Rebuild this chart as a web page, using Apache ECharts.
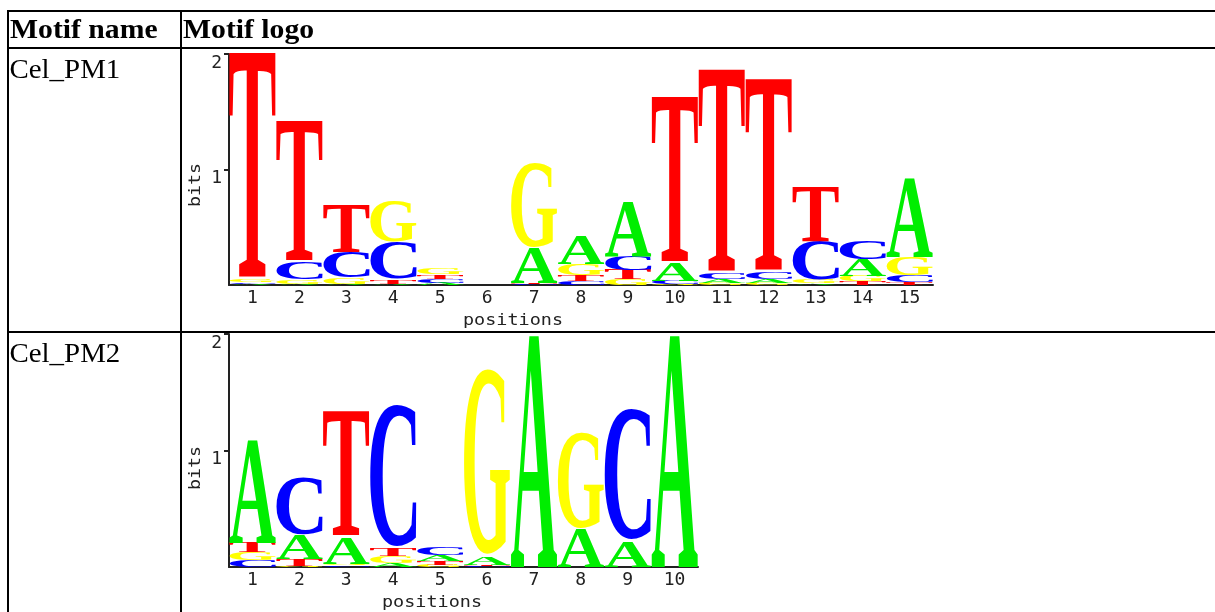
<!DOCTYPE html>
<html><head><meta charset="utf-8">
<script src="https://cdn.jsdelivr.net/npm/echarts@6/dist/echarts.min.js"></script>
<style>html,body{margin:0;padding:0;background:#fff}#c{width:1215px;height:612px}</style>
</head><body><div id="c"></div><script>
// ---- data ----
const headers = ['Motif name', 'Motif logo'];
const motifNames = ['Cel_PM1', 'Cel_PM2'];
const yTicks = [1, 2];

const positions1 = ['1','2','3','4','5','6','7','8','9','10','11','12','13','14','15'];
const A1 = [0.01, 0.01, 0.01, 0.01, 0.02, 0, 0.30, 0.24, 0.47, 0.15, 0.03, 0.03, 0.015, 0.14, 0.68];
const C1 = [0.015, 0.15, 0.22, 0.32, 0.03, 0, 0.01, 0.03, 0.12, 0.03, 0.05, 0.06, 0.33, 0.16, 0.06];
const G1 = [0.02, 0.04, 0.05, 0.36, 0.05, 0, 0.73, 0.10, 0.05, 0.005, 0.02, 0.02, 0.03, 0.05, 0.16];
const T1 = [1.95, 1.21, 0.41, 0.04, 0.04, 0, 0.01, 0.05, 0.08, 1.43, 1.75, 1.66, 0.47, 0.03, 0.025];

const positions2 = ['1','2','3','4','5','6','7','8','9','10'];
const A2 = [0.88, 0.20, 0.23, 0.03, 0.05, 0.07, 1.98, 0.32, 0.22, 1.98];
const C2 = [0.06, 0.50, 0.015, 1.23, 0.07, 0.01, 0, 0, 1.13, 0];
const G2 = [0.07, 0.01, 0.015, 0.06, 0.02, 1.60, 0, 0.83, 0, 0];
const T2 = [0.08, 0.06, 1.07, 0.07, 0.03, 0.01, 0, 0, 0, 0];

// ---- styling ----
const letterColors = { A: '#00ee00', C: '#0000ff', G: '#ffff00', T: '#ff0000' };
const letterFont = 'bold 100px "Liberation Serif"';
const monoFamily = 'DejaVu Sans Mono';
const axisColor = '#222';

const mctx = document.createElement('canvas').getContext('2d');
mctx.textAlign = 'left';
mctx.textBaseline = 'middle';
function measure(font, txt) {
  mctx.font = font;
  const m = mctx.measureText(txt);
  return { L: m.actualBoundingBoxLeft, R: m.actualBoundingBoxRight,
           A: m.actualBoundingBoxAscent, D: m.actualBoundingBoxDescent };
}
const glyph = {};
['A','C','G','T'].forEach(l => glyph[l] = measure(letterFont, l));

function rows(a, c, g, t) {
  return a.map((v, i) => [i, v, c[i], g[i], t[i]]);
}

function renderLogo(params, api) {
  const idx = api.value(0);
  const items = [
    { l: 'A', v: api.value(1) }, { l: 'C', v: api.value(2) },
    { l: 'G', v: api.value(3) }, { l: 'T', v: api.value(4) }
  ].sort((p, q) => p.v - q.v);
  const band = api.size([1, 0])[0];
  const cx = api.coord([idx, 0])[0];
  const x0 = cx - band / 2, x1 = cx + band / 2;
  let cum = 0;
  const children = [];
  items.forEach(it => {
    if (!(it.v > 0)) return;
    const yb = api.coord([idx, cum])[1];
    const yt = api.coord([idx, cum + it.v])[1];
    cum += it.v;
    if (yb - yt < 0.4) return;
    const g = glyph[it.l];
    const sx = (x1 - x0) / (g.L + g.R);
    const sy = (yb - yt) / (g.A + g.D);
    children.push({
      type: 'text', silent: true,
      x: x0 + g.L * sx, y: yt + g.A * sy, scaleX: sx, scaleY: sy,
      style: { text: it.l, font: letterFont, fill: letterColors[it.l], align: 'left', verticalAlign: 'middle' }
    });
  });
  return { type: 'group', children };
}

function textAtBaseline(txt, font, left, baseline, scaleX) {
  const d = measure(font, 'H').D;
  return { type: 'text', x: left, y: baseline - d, scaleX: scaleX, silent: true,
    style: { text: txt, font: font, fill: '#000', align: 'left', verticalAlign: 'middle' } };
}

const headFont = 'bold 27px "Liberation Serif"';
const nameFont = '27px "Liberation Serif"';

function xAxisCfg(gi, cats) {
  return { type: 'category', gridIndex: gi, data: cats, boundaryGap: true,
    axisLine: { show: true, lineStyle: { color: axisColor, width: 2 } },
    axisTick: { show: false },
    axisLabel: { color: axisColor, fontFamily: monoFamily, fontSize: 18, margin: 4, interval: 0 },
    splitLine: { show: false } };
}
function yAxisCfg(gi) {
  return { type: 'value', gridIndex: gi, min: 0, max: 2, interval: 1,
    axisLine: { show: true, lineStyle: { color: axisColor, width: 2 } },
    axisTick: { show: true, length: 5, customValues: yTicks, lineStyle: { color: axisColor, width: 2 } },
    axisLabel: { customValues: yTicks, color: axisColor, fontFamily: monoFamily, fontSize: 18,
      margin: 7, verticalAlign: 'top' },
    splitLine: { show: false } };
}

const chart = echarts.init(document.getElementById('c'), null, { renderer: 'canvas' });
chart.setOption({
  animation: false,
  backgroundColor: '#fff',
  grid: [
    { left: 229, top: 54, width: 704, height: 231, outerBoundsMode: 'none', containLabel: false },
    { left: 229, top: 334, width: 469, height: 233, outerBoundsMode: 'none', containLabel: false }
  ],
  xAxis: [xAxisCfg(0, positions1), xAxisCfg(1, positions2)],
  yAxis: [yAxisCfg(0), yAxisCfg(1)],
  series: [
    { type: 'custom', xAxisIndex: 0, yAxisIndex: 0, clip: false, silent: true,
      renderItem: renderLogo, data: rows(A1, C1, G1, T1) },
    { type: 'custom', xAxisIndex: 1, yAxisIndex: 1, clip: false, silent: true,
      renderItem: renderLogo, data: rows(A2, C2, G2, T2) }
  ],
  graphic: { elements: [
    { type: 'rect', silent: true, shape: { x: 7, y: 10, width: 1208, height: 2 }, style: { fill: '#000' } },
    { type: 'rect', silent: true, shape: { x: 7, y: 47, width: 1208, height: 2 }, style: { fill: '#000' } },
    { type: 'rect', silent: true, shape: { x: 7, y: 331, width: 1208, height: 2 }, style: { fill: '#000' } },
    { type: 'rect', silent: true, shape: { x: 7, y: 10, width: 2, height: 602 }, style: { fill: '#000' } },
    { type: 'rect', silent: true, shape: { x: 180, y: 10, width: 2, height: 602 }, style: { fill: '#000' } },
    textAtBaseline(headers[0], headFont, 10, 38, 1.10),
    textAtBaseline(headers[1], headFont, 183, 38, 1.10),
    textAtBaseline(motifNames[0], nameFont, 9.5, 77.5, 1.07),
    textAtBaseline(motifNames[1], nameFont, 9.5, 361.5, 1.07),
    { type: 'text', x: 513, y: 321, scaleX: 1.23, silent: true,
      style: { text: 'positions', font: '15px "' + monoFamily + '"', fill: axisColor, align: 'center', verticalAlign: 'middle' } },
    { type: 'text', x: 432, y: 603, scaleX: 1.23, silent: true,
      style: { text: 'positions', font: '15px "' + monoFamily + '"', fill: axisColor, align: 'center', verticalAlign: 'middle' } },
    { type: 'text', x: 196, y: 185, rotation: Math.PI / 2, scaleX: 1.22, silent: true,
      style: { text: 'bits', font: '15px "' + monoFamily + '"', fill: axisColor, align: 'center', verticalAlign: 'middle' } },
    { type: 'text', x: 196, y: 468, rotation: Math.PI / 2, scaleX: 1.22, silent: true,
      style: { text: 'bits', font: '15px "' + monoFamily + '"', fill: axisColor, align: 'center', verticalAlign: 'middle' } }
  ] }
});
</script></body></html>
